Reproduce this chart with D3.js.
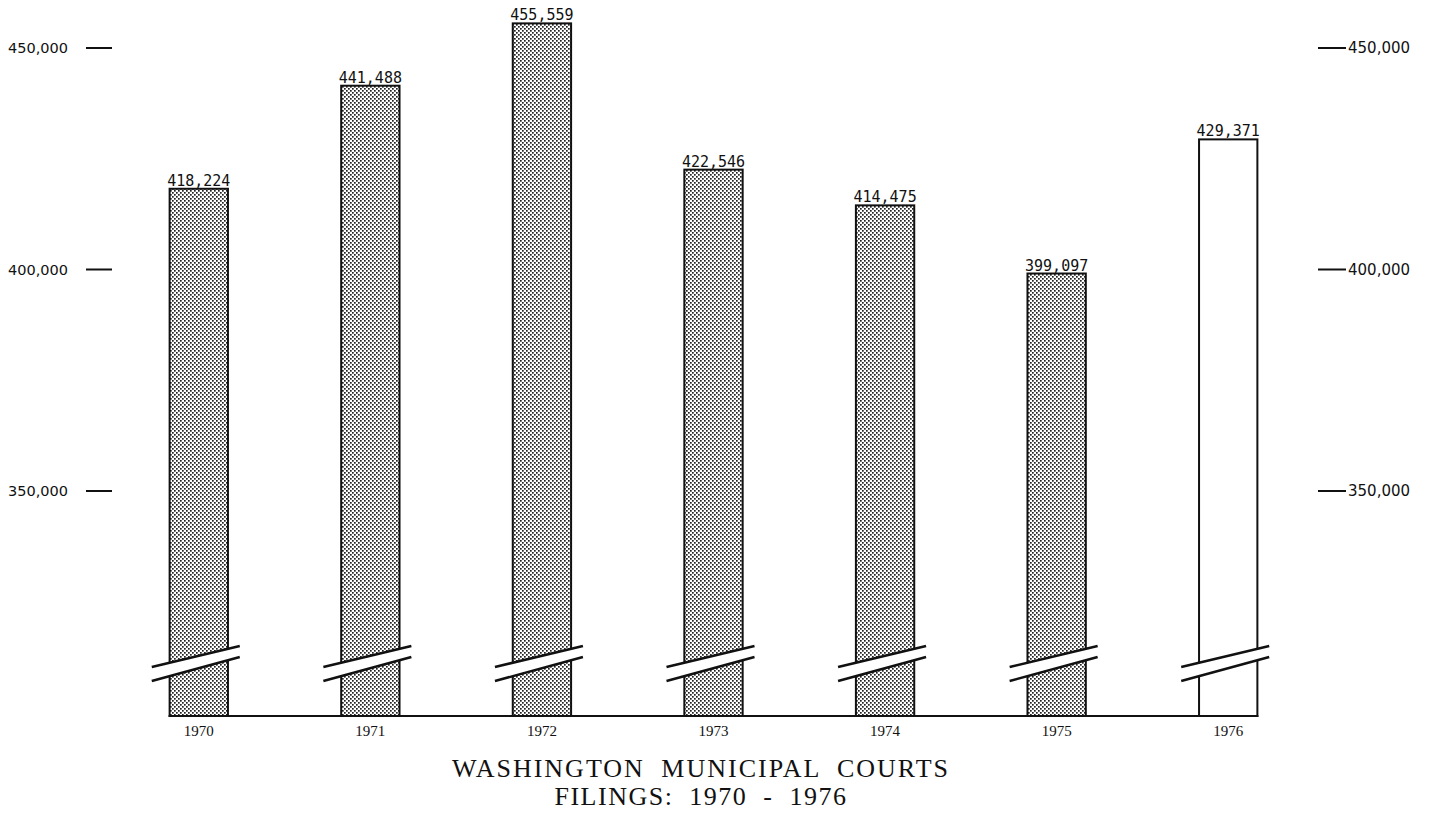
<!DOCTYPE html>
<html><head><meta charset="utf-8">
<script src="https://cdn.jsdelivr.net/npm/d3@7"></script>
<style>body{margin:0;background:#fff;}svg{display:block;}</style>
</head><body>
<script>
const years = ["1970","1971","1972","1973","1974","1975","1976"];
const filings = [418224, 441488, 455559, 422546, 414475, 399097, 429371];
const valueLabels = ["418,224","441,488","455,559","422,546","414,475","399,097","429,371"];
const shaded = [true, true, true, true, true, true, false];
const tickValues = [350000, 400000, 450000];
const tickLabels = ["350,000", "400,000", "450,000"];
const titleLines = ["WASHINGTON MUNICIPAL COURTS", "FILINGS:  1970  -  1976"];

const W = 1435, H = 813;
const svg = d3.select("body").append("svg").attr("width", W).attr("height", H);

const defs = svg.append("defs");
const pat = defs.append("pattern").attr("id","dots").attr("patternUnits","userSpaceOnUse")
  .attr("width",4).attr("height",4);
pat.append("rect").attr("width",4).attr("height",4).attr("fill","#fff");
pat.append("rect").attr("x",0).attr("y",0).attr("width",1.7).attr("height",1.7).attr("fill","#222");
pat.append("rect").attr("x",2).attr("y",2).attr("width",1.7).attr("height",1.7).attr("fill","#222");

const y = d3.scaleLinear().domain([350000, 450000]).range([491, 48]);
const baseY = 716;
const x = d3.scaleBand().domain(years).range([113, 1314]).paddingInner(0.66).paddingOuter(0.33);

const g = svg.append("g");
years.forEach((yr, i) => {
  const x0 = x(yr), bw = x.bandwidth();
  const top = y(filings[i]);
  g.append("rect").attr("x", x0).attr("y", top).attr("width", bw).attr("height", baseY - top)
    .attr("fill", shaded[i] ? "url(#dots)" : "#fff").attr("stroke", "#111").attr("stroke-width", 2);
  g.append("text").attr("x", x0 + bw/2).attr("y", top - 3).attr("text-anchor","middle")
    .attr("font-family","DejaVu Sans Mono, monospace").attr("font-size",15).attr("fill","#111")
    .text(valueLabels[i]);
  g.append("text").attr("x", x0 + bw/2).attr("y", baseY + 20).attr("text-anchor","middle")
    .attr("font-family","Liberation Serif, serif").attr("font-size",15).attr("fill","#111")
    .text(yr);
  const cx = x0 + bw/2;
  const lx = cx - 47, rx = cx + 41;
  const brk = g.append("g");
  brk.append("polygon")
    .attr("points", `${lx},${667} ${rx},${646} ${rx},${657} ${lx},${681}`)
    .attr("fill","#fff");
  brk.append("line").attr("x1",lx).attr("y1",667).attr("x2",rx).attr("y2",646)
    .attr("stroke","#111").attr("stroke-width",2.5);
  brk.append("line").attr("x1",lx).attr("y1",681).attr("x2",rx).attr("y2",657)
    .attr("stroke","#111").attr("stroke-width",2.5);
});

svg.append("line").attr("x1", x(years[0]) - 1).attr("x2", x(years[6]) + x.bandwidth() + 1)
  .attr("y1", baseY).attr("y2", baseY).attr("stroke","#111").attr("stroke-width",2);

const left = svg.append("g");
tickValues.forEach((v, i) => {
  left.append("line").attr("x1",86).attr("x2",112).attr("y1",y(v)).attr("y2",y(v))
    .attr("stroke","#111").attr("stroke-width",2);
  left.append("text").attr("x",8).attr("y",y(v)+5).attr("font-family","DejaVu Sans, sans-serif")
    .attr("font-size",14.5).attr("fill","#111").text(tickLabels[i]);
});
const right = svg.append("g");
tickValues.forEach((v, i) => {
  right.append("line").attr("x1",1318).attr("x2",1346).attr("y1",y(v)).attr("y2",y(v))
    .attr("stroke","#111").attr("stroke-width",2);
  right.append("text").attr("x",1348).attr("y",y(v)+5).attr("font-family","DejaVu Sans, sans-serif")
    .attr("font-size",15).attr("fill","#111").text(tickLabels[i]);
});

svg.append("text").attr("x",701).attr("y",777).attr("text-anchor","middle")
  .attr("font-family","Liberation Serif, serif").attr("font-size",26).attr("letter-spacing",2)
  .attr("word-spacing",8).attr("fill","#111").text(titleLines[0]);
svg.append("text").attr("x",701).attr("y",805).attr("text-anchor","middle")
  .attr("font-family","Liberation Serif, serif").attr("font-size",26).attr("letter-spacing",1.5)
  .attr("fill","#111").style("white-space","pre").text(titleLines[1]);
</script>
</body></html>
